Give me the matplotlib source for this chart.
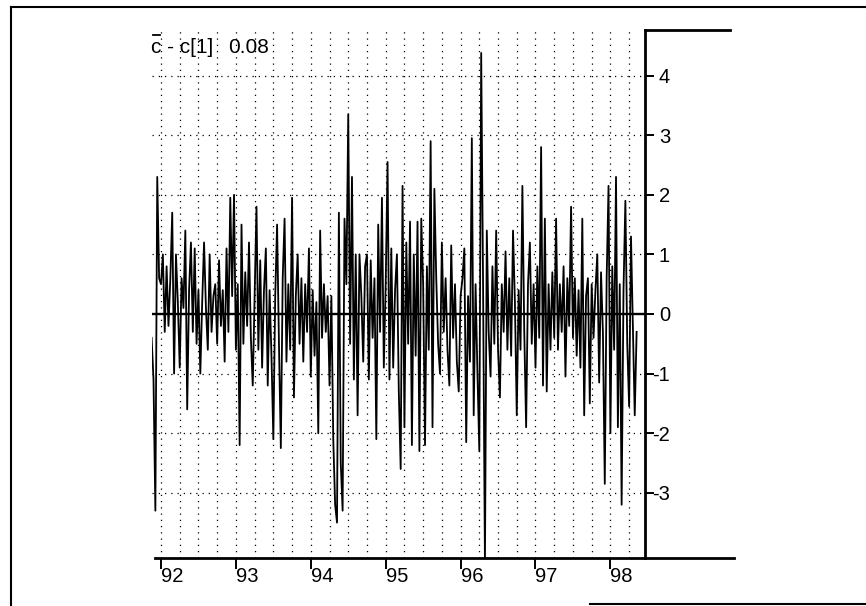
"""
Weekly deviation series c - c[1], 1992 to 1998, drawn like the old scanned plot
"""

import numpy as np
import matplotlib
matplotlib.use("Agg")
from matplotlib import pyplot as plt
from matplotlib.lines import Line2D

plt.rcParams["font.family"] = ["Liberation Sans", "DejaVu Sans"]
plt.rcParams["axes.unicode_minus"] = False

# series values (first point at 91.875, then every 0.025 yr)
values = [
    -0.4, -1.1, -3.3, 2.3, 0.6,
    # 1992
    0.5, 1.0, -0.3, 0.8, -0.2, 0.6, 1.7, -1.0, 1.0, 0.2,
    -0.9, 0.6, 0.1, 1.4, -1.6, 0.4, 1.2, -0.3, 1.1, -0.5,
    0.4, -1.0, 0.2, 1.2, 0.1, -0.6, 1.0, -0.3, 0.3, 0.5,
    -0.5, 0.9, -0.2, 0.4, -0.8, 1.1, -0.3, 1.95, 0.3, 2.0,
    # 1993
    -0.6, 0.5, -2.2, 1.5, -0.5, 0.7, -0.2, 1.2, -0.4, -1.2,
    0.3, 1.8, -0.6, 0.9, -0.9, 0.4, 1.1, -1.2, 0.4, -0.7,
    -2.1, 0.3, 1.5, -0.5, -2.25, 0.6, 1.6, -0.8, 0.5, -0.6,
    1.95, -1.4, 0.3, 1.0, -0.5, 0.6, -0.8, 0.5, -0.3, 1.1,
    # 1994
    -1.05, 0.4, -0.7, 0.2, -2.0, 1.4, -0.4, 0.5, -0.3, 0.3,
    -1.2, 0.3, -2.1, -3.2, -3.5, 1.7, -2.5, -3.3, 1.6, 0.5,
    3.35, -0.5, 2.3, -1.1, 1.0, -1.7, 1.0, 0.3, -0.8, 0.8,
    1.0, -1.1, 0.9, -0.4, 0.6, -2.1, 1.5, -0.3, 1.95, -0.9,
    # 1995
    0.5, 2.55, -1.1, 1.1, -0.9, 0.4, 1.0, -1.3, -2.6, 2.15,
    -1.9, 1.2, -0.5, 1.55, -2.2, 1.0, -0.7, 1.55, -2.3, 1.6,
    0.5, -2.2, 0.8, -0.6, 2.9, -1.9, 2.1, 0.6, -0.5, -1.0,
    1.2, -0.3, 0.6, -0.6, -1.2, 1.15, -0.4, 0.5, -0.8, -1.3,
    # 1996
    0.3, 0.6, 1.1, -2.15, 0.3, -0.8, 2.95, -1.7, 0.5, -1.0,
    -2.3, 4.38, 0.5, -4.2, 1.4, -0.3, -1.05, 0.8, -0.5, 1.4,
    -0.6, -1.4, 0.5, -0.3, 1.05, -0.6, 0.6, -0.7, 1.4, 0.2,
    -1.7, 0.4, -0.6, 2.15, -0.3, -1.9, 0.5, 1.2, -0.5, 0.5,
    # 1997
    -0.9, 0.8, -0.4, 2.8, -1.2, 1.6, -1.3, 0.5, -0.6, 0.7,
    -0.4, 1.6, -0.6, 0.5, -0.3, 0.8, -1.05, 0.6, -0.2, 1.8,
    -0.4, 0.6, -0.7, 0.4, -0.9, 1.6, -1.7, 0.3, 0.6, -1.5,
    0.5, -0.4, 0.4, 1.0, -1.15, 0.7, -0.3, -2.85, 0.6, 2.15,
    # 1998
    -2.0, 0.8, -0.6, 2.3, -1.9, 0.5, -3.2, 0.4, 1.9, -0.5,
    -1.55, 1.3, -0.2, -1.7, -0.3,
]
start_year = 91.875
step = 0.025
years = start_year + step * np.arange(len(values))

x_ticks = [92, 93, 94, 95, 96, 97, 98]
x_labels = ["92", "93", "94", "95", "96", "97", "98"]
y_ticks = [-3, -2, -1, 0, 1, 2, 3, 4]
y_labels = ["-3", "-2", "-1", "0", "1", "2", "3", "4"]
title_left = "c - c[1]"
title_right = "0.08"

W, H = 866, 606
fig = plt.figure(figsize=(W / 100, H / 100), dpi=100)
ax = fig.add_axes([152 / W, 1 - 558 / H, (645 - 152) / W, (558 - 30) / H])

# dotted grid: quarters on x, whole units on y
dots = (0, (1, 4))
for q in np.arange(92, 98.26, 0.25):
    ax.axvline(q, color="black", lw=0.9, ls=dots, zorder=1)
for v in y_ticks:
    if v != 0:
        ax.axhline(v, color="black", lw=0.9, ls=dots, zorder=1)
ax.axhline(0, color="black", lw=1.7, zorder=3)

ax.plot(years, values, color="black", lw=1.3, zorder=2)

ax.set_xlim(91.88, 98.462)
ax.set_ylim(-4.094, 4.765)

for side in ["top", "left", "bottom"]:
    ax.spines[side].set_visible(False)
ax.spines["right"].set_linewidth(2)

ax.yaxis.tick_right()
ax.set_yticks(y_ticks, y_labels)
ax.tick_params(axis="y", direction="out", length=6.5, width=1.4, pad=11.5, labelsize=14.5)
for lab in ax.get_yticklabels():
    lab.set_horizontalalignment("right")

ax.set_xticks(x_ticks, x_labels)
ax.tick_params(axis="x", direction="out", length=8, width=1.4, pad=-1.5, labelsize=14.5)
for lab in ax.get_xticklabels():
    lab.set_horizontalalignment("left")

# frame pieces outside the axes
ybot = 1 - 558 / H
fig.add_artist(Line2D([155 / W, 734 / W], [ybot, ybot], color="black", lw=2))
fig.add_artist(Line2D([645 / W, 730 / W], [1 - 30 / H, 1 - 30 / H], color="black", lw=2))
fig.add_artist(Line2D([11 / W, 11 / W], [1 - 7 / H, 0], color="black", lw=1.5))
fig.add_artist(Line2D([11 / W, 1], [1 - 7 / H, 1 - 7 / H], color="black", lw=1.5))
fig.add_artist(Line2D([590 / W, 1], [1 - 604 / H, 1 - 604 / H], color="black", lw=1.5))

# label in the top left corner, with the bar over the first c
fig.text(151 / W, 1 - 53 / H, title_left, fontsize=15, va="baseline")
fig.text(228 / W, 1 - 53 / H, title_right, fontsize=15, va="baseline")
fig.add_artist(Line2D([153 / W, 160 / W], [1 - 35 / H, 1 - 35 / H], color="black", lw=1.3))

fig.savefig("out.png", dpi=100)
